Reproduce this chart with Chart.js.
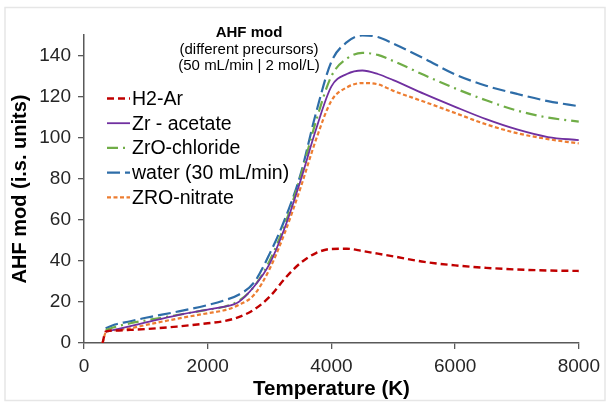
<!DOCTYPE html>
<html>
<head>
<meta charset="utf-8">
<script src="https://cdn.jsdelivr.net/npm/chart.js@4.4.1/dist/chart.umd.min.js"></script>
<style>
  html, body { margin: 0; padding: 0; background: #fff; }
  #wrap { width: 606px; height: 405px; }
</style>
</head>
<body>
<div id="wrap"><canvas id="ahfChart" width="606" height="405"></canvas></div>
<script>
// temperatures (K) shared by every series, null = no point there
const temps = [300, 350, 500, 750, 1000, 1500, 2000, 2250, 2500, 2750, 3000, 3250, 3500, 3750,
  4000, 4250, 4500, 4750, 5000, 5500, 6000, 6500, 7000, 7500, 8000];

const h2Ar = [0, 5.5, 6.1, 6.4, 6.8, 8.0, 9.6, 10.6, 12.6, 16.3, 22.5, 31.5, 39.0, 43.8,
  45.8, 45.9, 44.8, 43.5, 42.2, 39.5, 37.8, 36.6, 35.8, 35.3, 35.1];
const zrAcetate = [null, 5.5, 6.5, 8.2, 10.0, 13.5, 16.3, 17.6, 20.0, 27.5, 38.5, 56.5, 79.0, 104.0,
  125.0, 131.0, 132.7, 131.0, 128.0, 121.3, 115.0, 109.0, 104.0, 100.3, 98.8];
const zrOChloride = [null, 6.3, 7.8, 9.6, 11.0, 13.6, 16.2, 17.5, 20.5, 27.5, 40.0, 58.0, 81.0, 108.0,
  130.0, 138.5, 141.3, 140.3, 137.3, 130.5, 124.0, 118.2, 113.2, 109.8, 107.8];
const water = [null, 7.2, 9.0, 10.6, 12.3, 15.2, 18.5, 20.6, 23.5, 29.5, 43.4, 60.5, 82.0, 112.0,
  137.0, 146.5, 149.8, 149.0, 145.8, 138.5, 130.8, 125.3, 121.3, 117.8, 115.3];
const zroNitrate = [0, 5.0, 6.3, 7.2, 8.8, 11.8, 14.5, 15.8, 18.5, 23.5, 36.0, 54.0, 75.5, 99.0,
  118.0, 124.5, 126.6, 126.0, 122.8, 117.5, 112.0, 106.5, 102.2, 99.3, 97.2];

const seriesNames = ['H2-Ar', 'Zr - acetate', 'ZrO-chloride', 'water (30 mL/min)', 'ZRO-nitrate'];
const titleLines = ['AHF mod', '(different precursors)', '(50 mL/min | 2 mol/L)'];

const FONT = "'Liberation Sans', Arial, sans-serif";

function pts(vals) {
  const out = [];
  vals.forEach((v, i) => { if (v !== null) out.push({ x: temps[i], y: v }); });
  return out;
}

// background frame
const framePlugin = {
  id: 'frame',
  beforeDraw(chart) {
    const c = chart.ctx;
    c.save();
    c.fillStyle = '#ffffff';
    c.fillRect(0, 0, chart.width, chart.height);
    c.strokeStyle = '#e6e6e6';
    c.lineWidth = 1.5;
    c.strokeRect(5, 7.5, chart.width - 6, chart.height - 12);
    c.restore();
  }
};

// title block + legend drawn inside the plot area
const overlayPlugin = {
  id: 'overlay',
  afterDatasetsDraw(chart) {
    const c = chart.ctx;
    const a = chart.chartArea;
    c.save();
    c.textAlign = 'center';
    c.textBaseline = 'middle';
    c.fillStyle = '#000';
    const cx = a.left + 165;
    titleLines.forEach((t, i) => {
      c.font = (i === 0 ? 'bold ' : '') + '15px ' + FONT;
      c.fillText(t, cx, a.top - 2 + i * 16.6);
    });

    c.textAlign = 'left';
    c.font = '19.5px ' + FONT;
    chart.data.datasets.forEach((ds, i) => {
      const y = a.top + 63.5 + i * 24.7;
      c.beginPath();
      c.setLineDash(ds.borderDash || []);
      c.strokeStyle = ds.borderColor;
      c.lineWidth = ds.borderWidth;
      c.moveTo(a.left + 23, y);
      c.lineTo(a.left + 46, y);
      c.stroke();
      c.setLineDash([]);
      c.fillStyle = '#000';
      c.fillText(ds.label, a.left + 48, y + 1);
    });
    c.restore();
  }
};

new Chart(document.querySelector('#ahfChart'), {
  type: 'line',
  data: {
    datasets: [
      { label: seriesNames[0], data: pts(h2Ar), borderColor: '#C00000', borderWidth: 2.4, borderDash: [7, 4] },
      { label: seriesNames[1], data: pts(zrAcetate), borderColor: '#7030A0', borderWidth: 1.8 },
      { label: seriesNames[2], data: pts(zrOChloride), borderColor: '#70AD47', borderWidth: 2.2, borderDash: [11, 5, 2, 5] },
      { label: seriesNames[3], data: pts(water), borderColor: '#2E6DA8', borderWidth: 2.2, borderDash: [13, 5] },
      { label: seriesNames[4], data: pts(zroNitrate), borderColor: '#ED7D31', borderWidth: 2.2, borderDash: [4, 2.5] }
    ]
  },
  options: {
    responsive: false,
    animation: false,
    devicePixelRatio: 1,
    layout: { padding: { top: 35, right: 27, left: 0, bottom: 0 } },
    elements: {
      point: { radius: 0 },
      line: { cubicInterpolationMode: 'monotone', fill: false }
    },
    scales: {
      x: {
        type: 'linear',
        min: 0,
        max: 8000,
        afterFit(s) { s.height = 62; },
        ticks: {
          stepSize: 2000,
          color: '#262626',
          font: { family: FONT, size: 19 },
          padding: 6,
          maxRotation: 0,
          callback: v => String(v)
        },
        grid: { drawOnChartArea: false, tickLength: 6, color: '#595959', lineWidth: 1.3 },
        border: { color: '#595959', width: 1.5 },
        title: {
          display: true,
          text: 'Temperature (K)',
          color: '#000',
          font: { family: FONT, size: 20.5, weight: 'bold' },
          padding: { top: 0, bottom: 3 }
        }
      },
      y: {
        min: 0,
        max: 150,
        afterFit(s) { s.width = 84; },
        ticks: {
          stepSize: 20,
          includeBounds: false,
          autoSkip: false,
          color: '#262626',
          font: { family: FONT, size: 19 },
          padding: 7,
          callback: v => String(v)
        },
        grid: { drawOnChartArea: false, tickLength: 6, color: '#595959', lineWidth: 1.3 },
        border: { color: '#595959', width: 1.5 },
        title: {
          display: true,
          text: 'AHF mod (i.s. units)',
          color: '#000',
          font: { family: FONT, size: 20, weight: 'bold' },
          padding: { top: 8, bottom: 0 }
        }
      }
    },
    plugins: {
      legend: { display: false },
      tooltip: { enabled: false }
    }
  },
  plugins: [framePlugin, overlayPlugin]
});
</script>
</body>
</html>
